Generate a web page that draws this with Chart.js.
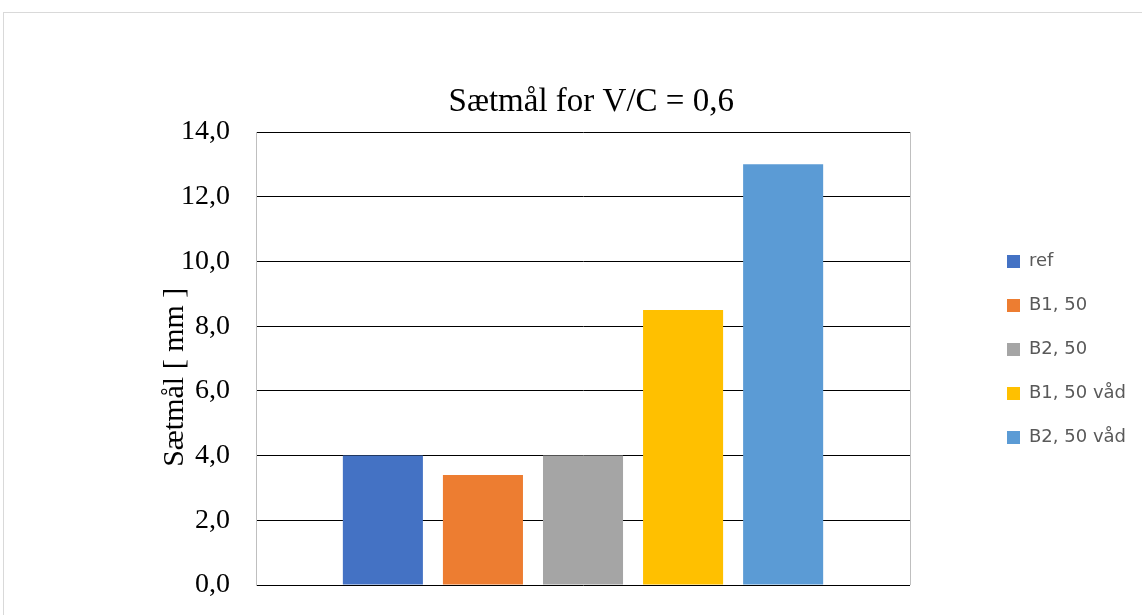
<!DOCTYPE html>
<html>
<head>
<meta charset="utf-8">
<title>Sætmål for V/C = 0,6</title>
<script src="https://cdn.jsdelivr.net/npm/chart.js@4.4.1/dist/chart.umd.min.js"></script>
<style>
  html, body { margin: 0; padding: 0; background: #fff; overflow: hidden; }
  #frame { position: absolute; left: 3px; top: 12px; width: 1200px; height: 700px;
           border: 1px solid #d9d9d9; box-sizing: border-box; }
  #wrap { position: absolute; left: 0; top: 0; width: 1142px; height: 615px; }
</style>
</head>
<body>
<div id="frame"></div>
<div id="wrap"><canvas id="chart" width="1142" height="615"></canvas></div>
<script>
// One category, one bar per series
const categories = [''];
const seriesNames = ['ref', 'B1, 50', 'B2, 50', 'B1, 50 våd', 'B2, 50 våd'];
const seriesValues = [4.0, 3.4, 4.0, 8.5, 13.0];
const seriesColors = ['#4472C4', '#ED7D31', '#A5A5A5', '#FFC000', '#5B9BD5'];
const yTickValues = [0, 2, 4, 6, 8, 10, 12, 14];

const chartTitle = 'Sætmål for V/C = 0,6';
const yAxisTitle = 'Sætmål [ mm ]';

const serif = "'Liberation Serif', 'Times New Roman', serif";

const datasets = seriesNames.map((name, i) => ({
  label: name,
  data: [seriesValues[i]],
  backgroundColor: seriesColors[i],
  borderWidth: 0,
  categoryPercentage: 0.765,
  barPercentage: 0.8
}));

new Chart(document.getElementById('chart'), {
  type: 'bar',
  data: { labels: categories, datasets },
  options: {
    responsive: false,
    devicePixelRatio: 1,
    animation: false,
    layout: { padding: { left: 150, right: 6, top: 84, bottom: 0 } },
    plugins: {
      tooltip: { enabled: false },
      title: {
        display: true,
        text: '  ' + chartTitle,
        fullSize: false,
        color: '#000',
        font: { family: serif, size: 33, weight: 'normal' },
        padding: { top: -1.8, bottom: 10.2 }
      },
      legend: {
        position: 'right',
        align: 'center',
        labels: {
          boxWidth: 13,
          boxHeight: 13,
          padding: 26,
          color: '#595959',
          font: { family: "'DejaVu Sans', sans-serif", size: 18 }
        }
      }
    },
    scales: {
      x: {
        type: 'category',
        offset: true,
        ticks: { display: false },
        grid: { display: true, offset: true, color: '#bfbfbf', lineWidth: 1, drawTicks: false },
        border: { display: false },
        afterFit: s => { s.height = 30; }
      },
      y: {
        position: 'left',
        min: 0,
        max: 14,
        afterBuildTicks: s => { s.ticks = yTickValues.map(v => ({ value: v })); },
        ticks: {
          color: '#000',
          padding: 26,
          // single-line labels; a small line height keeps the end-label room inside the plot margins
          font: { family: serif, size: 28, lineHeight: 0.1 },
          callback: v => Number(v).toFixed(1).replace('.', ',')
        },
        grid: { color: '#000', lineWidth: 1, drawTicks: false },
        border: { display: true, color: '#bfbfbf', width: 1 },
        title: {
          display: true,
          text: yAxisTitle + '     ',
          color: '#000',
          font: { family: serif, size: 30 },
          padding: { top: 7, bottom: 0 }
        },
        afterFit: s => { s.width = 106; }
      },
      y2: {
        position: 'right',
        display: true,
        ticks: { display: false },
        grid: { display: false },
        border: { display: false },
        afterFit: s => { s.width = 71; }
      }
    }
  }
});
</script>
</body>
</html>
